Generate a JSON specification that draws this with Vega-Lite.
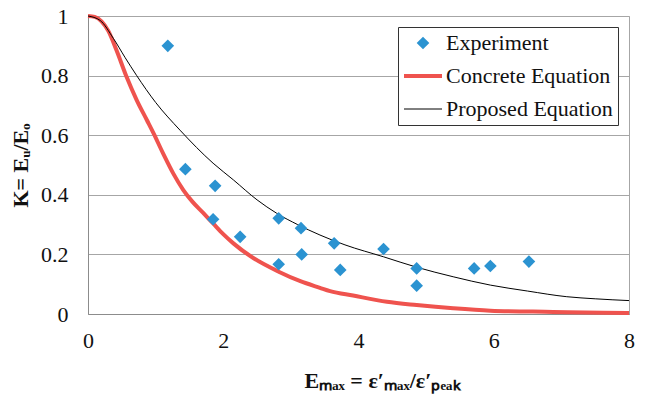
{
  "$schema": "https://vega.github.io/schema/vega-lite/v6.json",
  "width": 541,
  "height": 298,
  "autosize": "none",
  "padding": {"left": 88, "top": 16, "right": 17, "bottom": 82},
  "background": "white",
  "config": {
    "view": {"stroke": "#a6a6a6", "strokeWidth": 1},
    "font": "Liberation Serif",
    "axis": {
      "labelFont": "Liberation Serif",
      "labelFontSize": 22,
      "labelColor": "#111111",
      "titleFont": "Liberation Serif",
      "titleFontSize": 22,
      "titleFontWeight": "bold",
      "titleColor": "#111111",
      "domainColor": "#8c8c8c",
      "tickSize": 0,
      "gridColor": "#a6a6a6",
      "labelFlush": false
    }
  },
  "data": {
    "values": [
      {"series": "Experiment", "x": 1.18, "k": 0.9},
      {"series": "Experiment", "x": 1.44, "k": 0.486},
      {"series": "Experiment", "x": 1.88, "k": 0.43},
      {"series": "Experiment", "x": 1.85, "k": 0.318},
      {"series": "Experiment", "x": 2.25, "k": 0.259},
      {"series": "Experiment", "x": 2.82, "k": 0.321},
      {"series": "Experiment", "x": 3.15, "k": 0.288},
      {"series": "Experiment", "x": 2.82, "k": 0.167},
      {"series": "Experiment", "x": 3.16, "k": 0.2},
      {"series": "Experiment", "x": 3.64, "k": 0.237},
      {"series": "Experiment", "x": 3.73, "k": 0.148},
      {"series": "Experiment", "x": 4.37, "k": 0.218},
      {"series": "Experiment", "x": 4.86, "k": 0.153},
      {"series": "Experiment", "x": 4.86, "k": 0.095},
      {"series": "Experiment", "x": 5.71, "k": 0.153},
      {"series": "Experiment", "x": 5.95, "k": 0.161},
      {"series": "Experiment", "x": 6.52, "k": 0.176},

      {"series": "Concrete Equation", "x": 0, "k": 1.0},
      {"series": "Concrete Equation", "x": 0.1, "k": 0.997},
      {"series": "Concrete Equation", "x": 0.2, "k": 0.982},
      {"series": "Concrete Equation", "x": 0.3, "k": 0.95},
      {"series": "Concrete Equation", "x": 0.42, "k": 0.886},
      {"series": "Concrete Equation", "x": 0.57, "k": 0.796},
      {"series": "Concrete Equation", "x": 0.72, "k": 0.718},
      {"series": "Concrete Equation", "x": 0.87, "k": 0.651},
      {"series": "Concrete Equation", "x": 0.97, "k": 0.606},
      {"series": "Concrete Equation", "x": 1.11, "k": 0.539},
      {"series": "Concrete Equation", "x": 1.26, "k": 0.472},
      {"series": "Concrete Equation", "x": 1.41, "k": 0.416},
      {"series": "Concrete Equation", "x": 1.54, "k": 0.378},
      {"series": "Concrete Equation", "x": 1.7, "k": 0.34},
      {"series": "Concrete Equation", "x": 1.85, "k": 0.304},
      {"series": "Concrete Equation", "x": 2.0, "k": 0.268},
      {"series": "Concrete Equation", "x": 2.15, "k": 0.237},
      {"series": "Concrete Equation", "x": 2.45, "k": 0.187},
      {"series": "Concrete Equation", "x": 2.82, "k": 0.142},
      {"series": "Concrete Equation", "x": 3.14, "k": 0.11},
      {"series": "Concrete Equation", "x": 3.43, "k": 0.088},
      {"series": "Concrete Equation", "x": 3.58, "k": 0.077},
      {"series": "Concrete Equation", "x": 3.92, "k": 0.062},
      {"series": "Concrete Equation", "x": 4.42, "k": 0.041},
      {"series": "Concrete Equation", "x": 4.86, "k": 0.03},
      {"series": "Concrete Equation", "x": 5.4, "k": 0.019},
      {"series": "Concrete Equation", "x": 5.95, "k": 0.011},
      {"series": "Concrete Equation", "x": 6.88, "k": 0.007},
      {"series": "Concrete Equation", "x": 7.62, "k": 0.004},
      {"series": "Concrete Equation", "x": 8.0, "k": 0.003},

      {"series": "Proposed Equation", "x": 0, "k": 1.0},
      {"series": "Proposed Equation", "x": 0.18, "k": 0.985},
      {"series": "Proposed Equation", "x": 0.375, "k": 0.925},
      {"series": "Proposed Equation", "x": 0.55, "k": 0.86},
      {"series": "Proposed Equation", "x": 0.72, "k": 0.8},
      {"series": "Proposed Equation", "x": 1.0, "k": 0.71},
      {"series": "Proposed Equation", "x": 1.36, "k": 0.617},
      {"series": "Proposed Equation", "x": 1.85, "k": 0.506},
      {"series": "Proposed Equation", "x": 2.15, "k": 0.45},
      {"series": "Proposed Equation", "x": 2.5, "k": 0.383},
      {"series": "Proposed Equation", "x": 2.79, "k": 0.338},
      {"series": "Proposed Equation", "x": 3.1, "k": 0.3},
      {"series": "Proposed Equation", "x": 3.43, "k": 0.265},
      {"series": "Proposed Equation", "x": 3.8, "k": 0.232},
      {"series": "Proposed Equation", "x": 4.37, "k": 0.192},
      {"series": "Proposed Equation", "x": 4.86, "k": 0.157},
      {"series": "Proposed Equation", "x": 5.4, "k": 0.125},
      {"series": "Proposed Equation", "x": 5.95, "k": 0.097},
      {"series": "Proposed Equation", "x": 6.5, "k": 0.077},
      {"series": "Proposed Equation", "x": 7.08, "k": 0.058},
      {"series": "Proposed Equation", "x": 7.5, "k": 0.051},
      {"series": "Proposed Equation", "x": 8.0, "k": 0.045}
    ]
  },
  "encoding": {
    "x": {
      "field": "x",
      "type": "quantitative",
      "scale": {"domain": [0, 8], "nice": false, "zero": false},
      "axis": {
        "values": [0, 2, 4, 6, 8],
        "grid": false,
        "labelPadding": 16,
        "title": "Eₘₐₓ = ε′ₘₐₓ/ε′ₚₑₐₖ",
        "titlePadding": 19,
        "titleX": 294
      }
    },
    "y": {
      "field": "k",
      "type": "quantitative",
      "scale": {"domain": [0, 1], "nice": false},
      "axis": {
        "values": [0, 0.2, 0.4, 0.6, 0.8, 1],
        "format": "~g",
        "grid": true,
        "labelPadding": 20,
        "title": "K= Eᵤ/Eₒ",
        "titlePadding": 8
      }
    },
    "color": {
      "field": "series",
      "type": "nominal",
      "scale": {
        "domain": ["Experiment", "Concrete Equation", "Proposed Equation"],
        "range": ["#2b93d1", "#ef534e", "#000000"]
      },
      "legend": {
        "title": null,
        "orient": "top-right",
        "offset": 11,
        "padding": 5,
        "fillColor": "white",
        "strokeColor": "#333333",
        "labelFont": "Liberation Serif",
        "labelFontSize": 22,
        "labelColor": "#111111",
        "labelLimit": 400,
        "labelOffset": 12,
        "symbolOffset": 9,
        "rowPadding": 11,
        "symbolSize": 1444,
        "encode": {
          "symbols": {
            "update": {
              "shape": {"signal": "datum.value === 'Experiment' ? 'diamond' : 'stroke'"},
              "size": {"signal": "datum.value === 'Experiment' ? 160 : 1444"},
              "strokeWidth": {"signal": "datum.value === 'Concrete Equation' ? 4 : datum.value === 'Proposed Equation' ? 1 : 0"},
              "fill": {"signal": "datum.value === 'Experiment' ? '#2b93d1' : 'transparent'"},
              "stroke": {"signal": "datum.value === 'Concrete Equation' ? '#ef534e' : datum.value === 'Proposed Equation' ? '#000000' : 'transparent'"},
              "opacity": {"value": 1}
            }
          }
        }
      }
    }
  },
  "layer": [
    {
      "transform": [{"filter": "datum.series === 'Concrete Equation'"}],
      "mark": {"type": "line", "strokeWidth": 4, "interpolate": "monotone"}
    },
    {
      "transform": [{"filter": "datum.series === 'Proposed Equation'"}],
      "mark": {"type": "line", "strokeWidth": 1, "interpolate": "monotone"}
    },
    {
      "transform": [{"filter": "datum.series === 'Experiment'"}],
      "mark": {"type": "point", "shape": "diamond", "filled": true, "size": 160, "opacity": 1}
    }
  ]
}
